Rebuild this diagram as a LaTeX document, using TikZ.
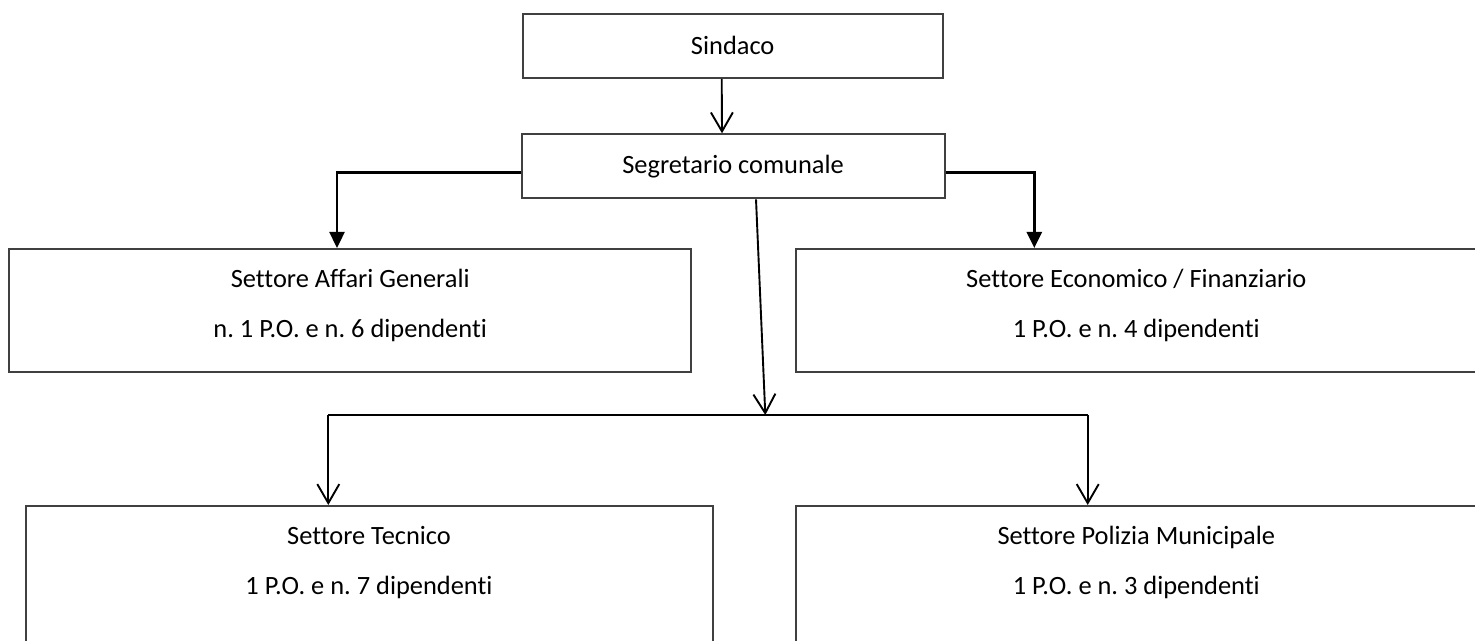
\documentclass[tikz,border=0pt]{standalone}
\usepackage{fontspec}
\setmainfont[Ligatures=CommonOff]{Carlito}
\usetikzlibrary{arrows.meta}
\tikzstyle{box}=[rectangle, draw=black!75, line width=1pt, inner sep=0pt]
\tikzstyle{sector}=[box, minimum height=61.3pt]
\tikzstyle{caption}=[anchor=north, inner sep=0pt, align=center, yshift=-10pt]
\tikzstyle{solid head}=[line width=1.2pt, -{Triangle[length=8pt,width=7.5pt]}]
\tikzstyle{open head}=[-{Straight Barb[length=9.5pt,width=11pt]}]
\begin{document}
\frenchspacing
\begin{tikzpicture}[x=0.5pt, y=-0.5pt, font=\fontsize{13.2}{25}\selectfont, line width=0.95pt]
  \useasboundingbox (0,0) rectangle (1475,641);

  %% Sindaco and Segretario
  \draw (732.7,45.9) node[box, minimum width=210pt, minimum height=31.9pt] (Sin) {Sindaco};
  \draw (733,166.3) node[box, minimum width=211.5pt, minimum height=32pt] (Seg) {Segretario comunale};

  %% Settori
  \draw (350.2,310.3) node[sector, minimum width=340.8pt,
    label={[caption]north:{Settore Affari Generali\\n. 1 P.O. e n. 6 dipendenti}}] (Aff) {};
  \draw (1136.3,310.3) node[sector, minimum width=340.7pt,
    label={[caption]north:{Settore Economico / Finanziario\\1 P.O. e n. 4 dipendenti}}] (Eco) {};
  \draw (369,591) node[box, minimum width=343.5pt, minimum height=85pt,
    label={[caption]north:{Settore Tecnico\\1 P.O. e n. 7 dipendenti}}] (Tec) {};
  \draw (1136.3,591) node[box, minimum width=340.7pt, minimum height=85pt,
    label={[caption]north:{Settore Polizia Municipale\\1 P.O. e n. 3 dipendenti}}] (Pol) {};

  %% Connectors
  \coordinate (split) at (765.3,415);
  \coordinate (busL) at (328.3,415);
  \coordinate (busR) at (1087.7,415);

  \draw[open head] ([xshift=-5.5pt]Sin.south) -- ([xshift=-5.5pt]Seg.north);
  \draw[solid head] ([yshift=-3.2pt]Seg.west) -| ([xshift=-6.6pt]Aff.north);
  \draw[solid head] ([yshift=-3.2pt]Seg.east) -| ([xshift=-51pt]Eco.north);
  \draw[open head] ([xshift=11.5pt]Seg.south) -- (split);
  \draw (busL) -- (busR);
  \draw[open head] (busL) -- (busL |- Tec.north);
  \draw[open head] (busR) -- (busR |- Pol.north);
\end{tikzpicture}
\end{document}
